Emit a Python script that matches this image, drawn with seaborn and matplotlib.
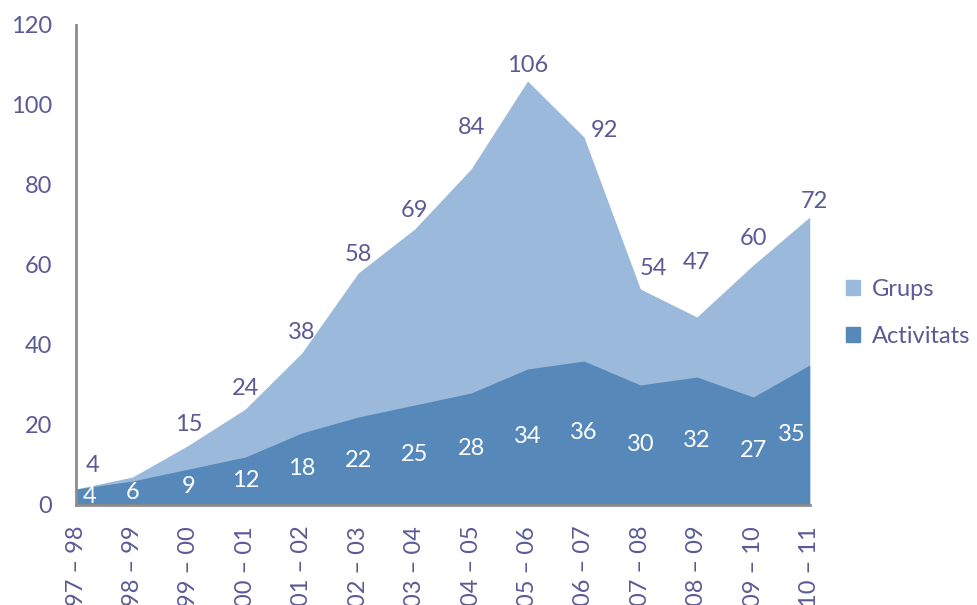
import pandas as pd
import matplotlib.pyplot as plt
import seaborn as sns
from matplotlib.patches import Patch

# Data
seasons = ["97 – 98", "98 – 99", "99 – 00", "00 – 01", "01 – 02", "02 – 03", "03 – 04",
           "04 – 05", "05 – 06", "06 – 07", "07 – 08", "08 – 09", "09 – 10", "10 – 11"]
grups = [4, 7, 15, 24, 38, 58, 69, 84, 106, 92, 54, 47, 60, 72]
activitats = [4, 6, 9, 12, 18, 22, 25, 28, 34, 36, 30, 32, 27, 35]
grups_labels = ["4", "", "15", "24", "38", "58", "69", "84", "106", "92", "54", "47", "60", "72"]

GRUPS_COLOR = "#9bbadb"
ACT_COLOR = "#5689b9"
TEXT_COLOR = "#5a5a96"
FONT = "Lato"
FS = 17

# label nudges (points) to follow the original placement
grups_nudge = {0: (12, 2), 5: (0, -2), 6: (0, -2), 7: (0, 15), 8: (0, -4),
               9: (15, -10), 10: (9, 0), 11: (0, 24), 12: (0, 4), 13: (3, -4)}
act_nudge = {0: (10, 0), 13: (-13, 0)}

df = pd.DataFrame({"x": range(len(seasons)), "Grups": grups, "Activitats": activitats})

sns.set_style("white")
plt.rcParams["font.family"] = [FONT, "DejaVu Sans"]

fig = plt.figure(figsize=(9.77, 6.05), dpi=100)
ax = fig.add_axes([0.0778, 0.1653, 0.751, 0.7934])

# invisible lines so seaborn sets up the scales, then fill the areas
sns.lineplot(data=df, x="x", y="Grups", ax=ax, linewidth=0, color=GRUPS_COLOR)
sns.lineplot(data=df, x="x", y="Activitats", ax=ax, linewidth=0, color=ACT_COLOR)
ax.fill_between(df["x"], 0, df["Grups"], color=GRUPS_COLOR, linewidth=0, zorder=1)
ax.fill_between(df["x"], 0, df["Activitats"], color=ACT_COLOR, linewidth=0, zorder=2)

ax.set_xlim(0, len(seasons) - 1)
ax.set_ylim(0, 120)
ax.set_yticks(range(0, 121, 20))
ax.set_xticks(range(len(seasons)))
ax.set_xticklabels(seasons, rotation=90, va="top")
ax.tick_params(axis="both", length=0, labelsize=FS, colors=TEXT_COLOR)
ax.tick_params(axis="y", pad=17)
ax.tick_params(axis="x", pad=15)
ax.set_xlabel("")
ax.set_ylabel("")

for side in ["top", "right"]:
    ax.spines[side].set_visible(False)
for side in ["left", "bottom"]:
    ax.spines[side].set_color("#8c8c8c")
    ax.spines[side].set_linewidth(2)
    ax.spines[side].set_zorder(5)

# data labels
for i, (g, a, gl) in enumerate(zip(grups, activitats, grups_labels)):
    if gl:
        dx, dy = grups_nudge.get(i, (0, 0))
        ax.annotate(gl, (i, g), xytext=(dx, 15 + dy), textcoords="offset points",
                    ha="center", va="center", fontsize=FS, color=TEXT_COLOR,
                    zorder=6, annotation_clip=False)
    dx, dy = act_nudge.get(i, (0, 0))
    ax.annotate(str(a), (i, a / 2), xytext=(dx, dy), textcoords="offset points",
                ha="center", va="center", fontsize=FS, color="white",
                zorder=6, annotation_clip=False)

handles = [Patch(color=GRUPS_COLOR, label="Grups"), Patch(color=ACT_COLOR, label="Activitats")]
ax.legend(handles=handles, loc="center left", bbox_to_anchor=(1.02, 0.40), frameon=False,
          fontsize=FS, labelcolor=TEXT_COLOR, handlelength=0.6, handleheight=0.6,
          handletextpad=0.5, labelspacing=1.1)

fig.savefig("out.png", dpi=100)
